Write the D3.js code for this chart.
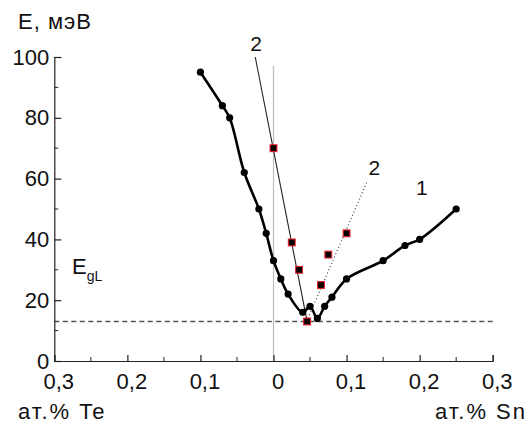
<!DOCTYPE html>
<html>
<head>
<meta charset="utf-8">
<script src="https://cdnjs.cloudflare.com/ajax/libs/d3/7.8.5/d3.min.js"></script>
<style>
  body { margin: 0; background: #fff; }
  text { font-family: "Liberation Sans", Arial, sans-serif; fill: #111; }
</style>
</head>
<body>
<svg id="chart" width="528" height="429"></svg>
<script>
// Curve 1 (circles): Te side plotted as negative, Sn side as positive
var conc1 = [-0.10, -0.07, -0.06, -0.04, -0.02, -0.01, 0, 0.01, 0.02, 0.04, 0.05, 0.06, 0.07, 0.08, 0.10, 0.15, 0.18, 0.20, 0.25];
var energy1 = [95, 84, 80, 62, 50, 42, 33, 27, 22, 16, 18, 14, 18, 21, 27, 33, 38, 40, 50];

// Curve 2 (squares)
var conc2 = [0, 0.025, 0.035, 0.046, 0.065, 0.075, 0.10];
var energy2 = [70, 39, 30, 13, 25, 35, 42];

// Fit lines of curve 2: solid (left branch), dotted (right branch)
var fitSolidX = [-0.025, 0.046];
var fitSolidY = [100, 13];
var fitDotX = [0.047, 0.129];
var fitDotY = [14, 59.5];

// E_gL level
var egl = 13;

// Ticks
var xMajor = [-0.3, -0.2, -0.1, 0, 0.1, 0.2, 0.3];
var xMinor = [-0.25, -0.15, -0.05, 0.05, 0.15, 0.25];
var yMajor = [0, 20, 40, 60, 80, 100];
var yMinor = [10, 30, 50, 70, 90];

var svg = d3.select("#chart");
svg.append("rect").attr("width", 528).attr("height", 429).attr("fill", "#fff");

var x = d3.scaleLinear().domain([-0.3, 0.3]).range([54.3, 492.7]);
var y = d3.scaleLinear().domain([0, 100]).range([361, 57]);

function fmt(d) {
  if (d === 0) return "0";
  return d3.format(".1f")(Math.abs(d)).replace(".", ",");
}

// Vertical gray line at zero
svg.append("line")
  .attr("x1", x(0)).attr("x2", x(0))
  .attr("y1", y(97)).attr("y2", y(0))
  .attr("stroke", "#bdbdbd").attr("stroke-width", 1.2);

// E_gL dashed line
svg.append("line")
  .attr("x1", x(-0.3)).attr("x2", x(0.3))
  .attr("y1", y(egl)).attr("y2", y(egl))
  .attr("stroke", "#555").attr("stroke-width", 1.3)
  .attr("stroke-dasharray", "5,3.5");

// Axes
var gx = svg.append("g").attr("transform", "translate(0," + y(0) + ")");
gx.call(d3.axisBottom(x).tickValues(xMajor).tickSize(-6).tickPadding(12).tickFormat(fmt));
gx.call(function(g) {
  g.selectAll(".minor").data(xMinor).enter().append("line")
    .attr("class", "minor")
    .attr("x1", function(d) { return x(d); }).attr("x2", function(d) { return x(d); })
    .attr("y1", 0).attr("y2", -4)
    .attr("stroke", "#222");
});
gx.selectAll("text").attr("dx", 4).style("font-size", "22px");

var gy = svg.append("g").attr("transform", "translate(" + x(-0.3) + ",0)");
gy.call(d3.axisLeft(y).tickValues(yMajor).tickSize(-7).tickPadding(5).tickFormat(d3.format("d")));
gy.call(function(g) {
  g.selectAll(".minor").data(yMinor).enter().append("line")
    .attr("class", "minor")
    .attr("y1", function(d) { return y(d); }).attr("y2", function(d) { return y(d); })
    .attr("x1", 0).attr("x2", 4)
    .attr("stroke", "#222");
});
gy.selectAll("text").style("font-size", "22px");

svg.selectAll(".domain, .tick line").attr("stroke", "#222").attr("stroke-width", 1.2);
svg.selectAll(".tick text").style("fill", "#111").style("font-family", "Liberation Sans, Arial, sans-serif");

// Fit line 2 (solid)
var solid = d3.zip(fitSolidX, fitSolidY);
svg.append("path")
  .datum(solid)
  .attr("d", d3.line().x(function(d) { return x(d[0]); }).y(function(d) { return y(d[1]); }))
  .attr("fill", "none").attr("stroke", "#222").attr("stroke-width", 1.1);

// Fit line 2 (dotted)
var dotted = d3.zip(fitDotX, fitDotY);
svg.append("path")
  .datum(dotted)
  .attr("d", d3.line().x(function(d) { return x(d[0]); }).y(function(d) { return y(d[1]); }))
  .attr("fill", "none").attr("stroke", "#444").attr("stroke-width", 1.2)
  .attr("stroke-dasharray", "1,2.5");

// Curve 1
var data1 = d3.zip(conc1, energy1);
svg.append("path")
  .datum(data1)
  .attr("d", d3.line().curve(d3.curveCatmullRom.alpha(0.5))
    .x(function(d) { return x(d[0]); }).y(function(d) { return y(d[1]); }))
  .attr("fill", "none").attr("stroke", "#000").attr("stroke-width", 2.6);

svg.selectAll("circle.p1").data(data1).enter().append("circle")
  .attr("class", "p1")
  .attr("cx", function(d) { return x(d[0]); })
  .attr("cy", function(d) { return y(d[1]); })
  .attr("r", 3.6)
  .attr("fill", "#000");

// Curve 2 squares
var data2 = d3.zip(conc2, energy2);
var s = 6.8;
svg.selectAll("rect.p2").data(data2).enter().append("rect")
  .attr("class", "p2")
  .attr("x", function(d) { return x(d[0]) - s / 2; })
  .attr("y", function(d) { return y(d[1]) - s / 2; })
  .attr("width", s).attr("height", s)
  .attr("fill", "#000")
  .attr("stroke", "#e8202a").attr("stroke-width", 1.1);

// Labels
svg.append("text").attr("x", x(-0.0237)).attr("y", y(102))
  .attr("text-anchor", "middle").style("font-size", "21px").text("2");
svg.append("text").attr("x", x(0.138)).attr("y", y(61.2))
  .attr("text-anchor", "middle").style("font-size", "21px").text("2");
svg.append("text").attr("x", x(0.203)).attr("y", y(54.6))
  .attr("text-anchor", "middle").style("font-size", "21px").text("1");

var eg = svg.append("text").attr("x", 72).attr("y", 274).style("font-size", "22px");
eg.append("tspan").text("E");
eg.append("tspan").attr("dy", 7).style("font-size", "14px").text("gL");

svg.append("text").attr("x", 18).attr("y", 29).style("font-size", "22px")
  .style("letter-spacing", "1px").text("E, мэВ");
svg.append("text").attr("x", 18).attr("y", 419).style("font-size", "22px")
  .style("letter-spacing", "2px").text("ат.% Te");
svg.append("text").attr("x", 527).attr("y", 419).attr("text-anchor", "end")
  .style("font-size", "22px").style("letter-spacing", "2px").text("ат.% Sn");
</script>
</body>
</html>
